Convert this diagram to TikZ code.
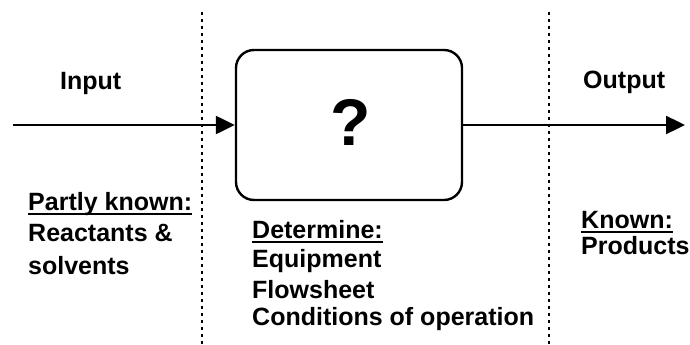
\documentclass[tikz,border=0pt]{standalone}
\usepackage{fontspec}
\setmainfont{Liberation Sans}
\usetikzlibrary{arrows.meta}
\tikzset{
  lbl/.style={inner sep=0pt, anchor=base west, font=\fontsize{25}{28}\selectfont\bfseries},
  flow/.style={line width=2.4pt, -{Triangle[length=19pt,width=18pt]}},
  divider/.style={line width=2.4pt, dash pattern=on 3pt off 4pt},
  procbox/.style={draw, line width=2.4pt, rounded corners=18pt, minimum width=226pt, minimum height=150pt, inner sep=0pt},
  uline/.style={line width=2pt}
}
\begin{document}
\begin{tikzpicture}[x=1pt,y=-1pt]
\useasboundingbox (0,0) rectangle (690,345);
% dividers
\coordinate (d1t) at (202,12); \coordinate (d1b) at (202,345);
\coordinate (d2t) at (549,12); \coordinate (d2b) at (549,345);
\draw[divider] (d1t) -- (d1b);
\draw[divider] (d2t) -- (d2b);
% box
\node[procbox] (box) at (349,125) {};
\node[inner sep=0pt, font=\fontsize{66}{66}\selectfont\bfseries] (q) at (351,122) {?};
% arrows
\coordinate (in) at (13,125);
\coordinate (out) at (685,125);
\draw[flow] (in) -- (box.west);
\draw[flow] (box.east) -- (out);
% labels
\node[lbl] (input) at (60,89) {Input};
\node[lbl] (output) at (583,88) {Output};
\node[lbl] (pk) at (28,210) {Partly known:};
\draw[uline] ([yshift=-4pt]pk.base west) -- ([yshift=-4pt]pk.base east);
\node[lbl] (react) at (28,241) {Reactants \&};
\node[lbl] (solv) at (28,274) {solvents};
\node[lbl] (det) at (252,238) {Determine:};
\draw[uline] ([yshift=-4pt]det.base west) -- ([yshift=-4pt]det.base east);
\node[lbl] (equip) at (252,267) {Equipment};
\node[lbl] (flow) at (252,298) {Flowsheet};
\node[lbl] (cond) at (252,325) {Conditions of operation};
\node[lbl] (known) at (581,228) {Known:};
\draw[uline] ([yshift=-4pt]known.base west) -- ([yshift=-4pt]known.base east);
\node[lbl] (prod) at (581,254) {Products};
\end{tikzpicture}
\end{document}
